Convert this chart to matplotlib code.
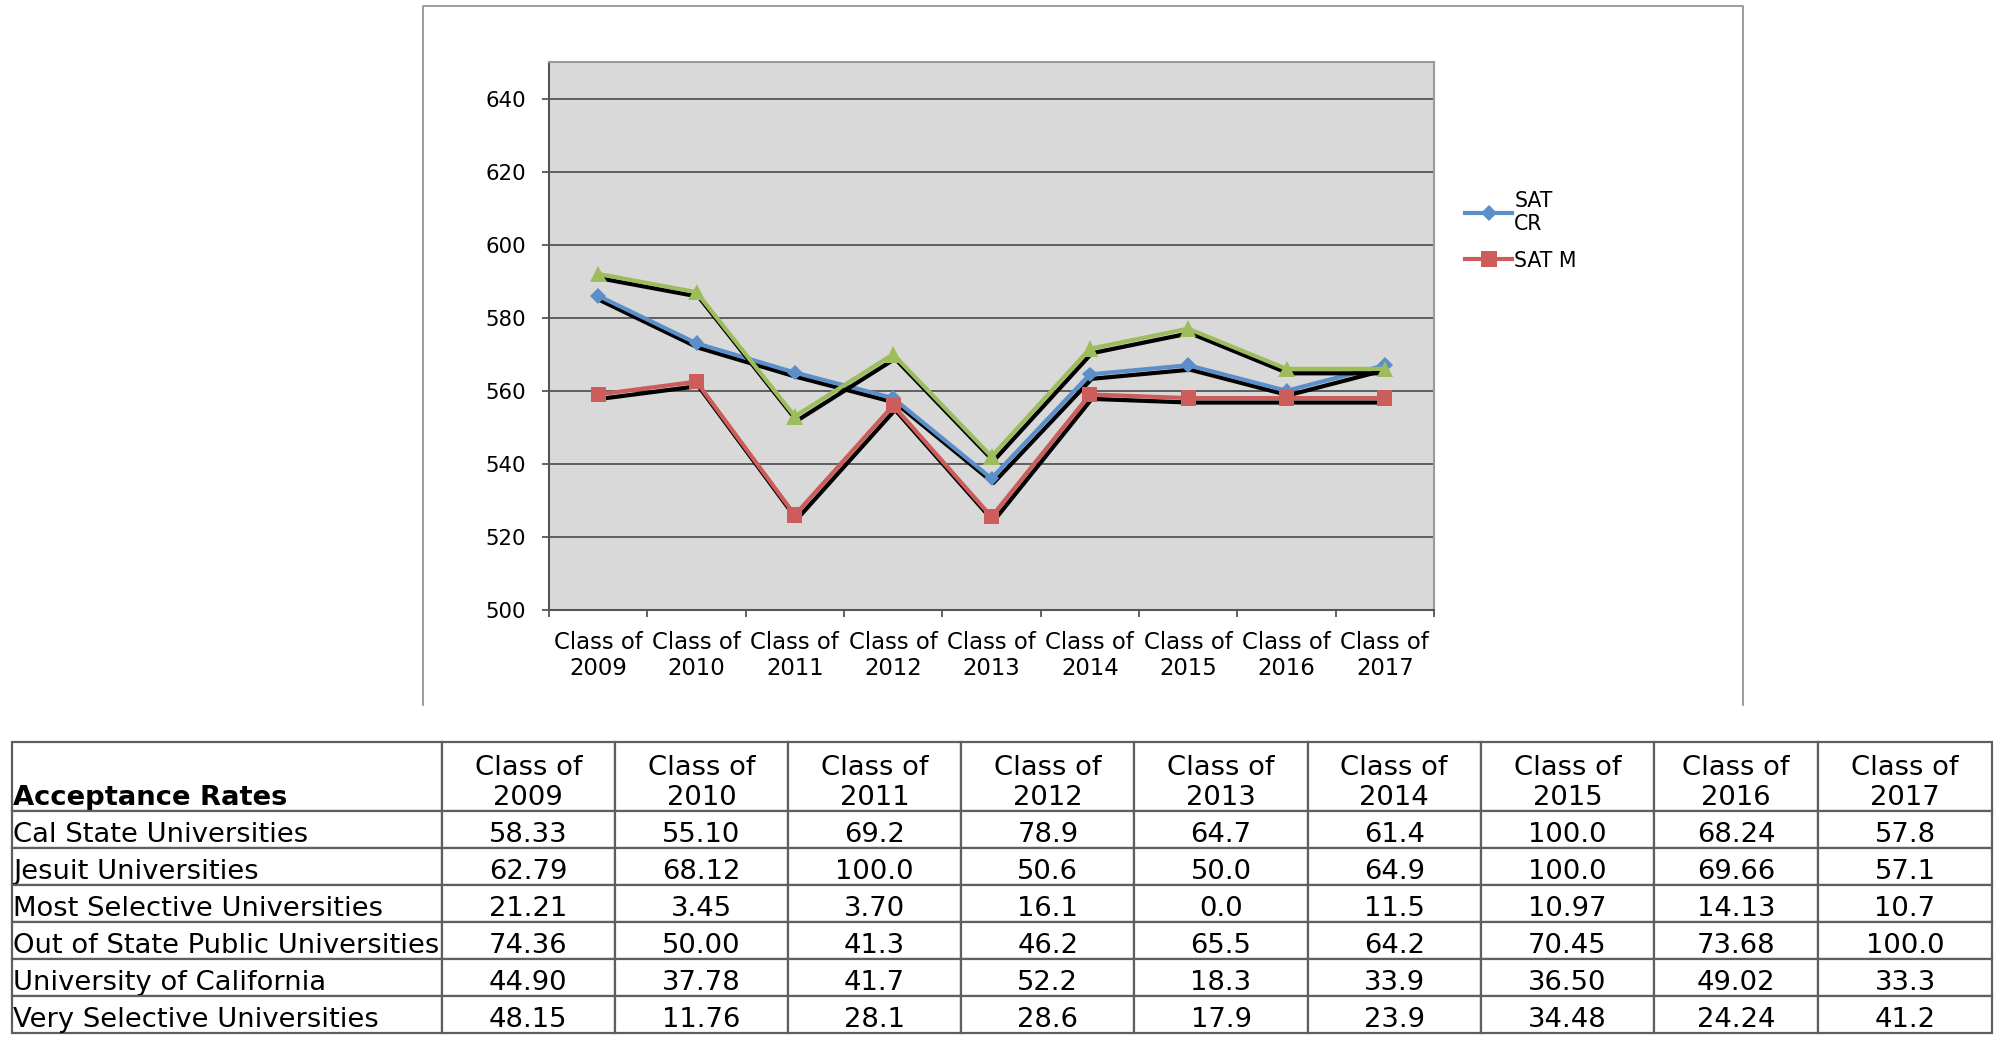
import numpy as np
import matplotlib
matplotlib.use("Agg")
import matplotlib.pyplot as plt
from matplotlib.lines import Line2D
import matplotlib.patheffects as pe

plt.rcParams['font.family'] = ['DejaVu Sans']

# ---------------- data ----------------
years = ['2009', '2010', '2011', '2012', '2013', '2014', '2015', '2016', '2017']
class_labels = [f'Class of\n{y}' for y in years]

sat_cr = [586, 573, 565, 558, 536, 564.5, 567, 560, 567]
sat_m = [559, 562.5, 526, 556, 525.5, 559, 558, 558, 558]
sat_w = [592, 587, 553, 570, 542, 571.5, 577, 566, 566]

table_title = 'Acceptance Rates'
universities = ['Cal State Universities', 'Jesuit Universities',
                'Most Selective Universities', 'Out of State Public Universities',
                'University of California', 'Very Selective Universities']
cal_state = ['58.33', '55.10', '69.2', '78.9', '64.7', '61.4', '100.0', '68.24', '57.8']
jesuit = ['62.79', '68.12', '100.0', '50.6', '50.0', '64.9', '100.0', '69.66', '57.1']
most_selective = ['21.21', '3.45', '3.70', '16.1', '0.0', '11.5', '10.97', '14.13', '10.7']
out_of_state = ['74.36', '50.00', '41.3', '46.2', '65.5', '64.2', '70.45', '73.68', '100.0']
uc = ['44.90', '37.78', '41.7', '52.2', '18.3', '33.9', '36.50', '49.02', '33.3']
very_selective = ['48.15', '11.76', '28.1', '28.6', '17.9', '23.9', '34.48', '24.24', '41.2']
rates = [cal_state, jesuit, most_selective, out_of_state, uc, very_selective]

# ---------------- figure ----------------
W, H = 2011, 1040
fig = plt.figure(figsize=(W / 100, H / 100), dpi=100)

# chart frame (left, top, right sides)
fx0, fx1, fy0, fy1 = 423 / W, 1743 / W, 1 - 705 / H, 1 - 6 / H
fig.add_artist(Line2D([fx0, fx0, fx1, fx1], [fy0, fy1, fy1, fy0],
                      transform=fig.transFigure, color='#8c8c8c', lw=1.2))

ax = fig.add_axes([549 / W, 1 - 610 / H, (1434 - 549) / W, (610 - 62) / H])
ax.set_facecolor('#d9d9d9')
x = np.arange(len(years))

blue = '#5b8fca'
red = '#cd5d5a'
green = '#9dbd5c'

shadow = [pe.SimpleLineShadow(offset=(1.4, -3.2), shadow_color='black', alpha=1.0),
          pe.Normal()]

ax.plot(x, sat_cr, color=blue, lw=3, marker='D', ms=8, mec=blue, mew=0,
        path_effects=shadow, zorder=3)
ax.plot(x, sat_m, color=red, lw=3, marker='s', ms=11, mec=red, mew=0,
        path_effects=shadow, zorder=4)
ax.plot(x, sat_w, color=green, lw=3, marker='^', ms=12, mec=green, mew=0,
        path_effects=shadow, zorder=5)

ax.set_xlim(-0.5, len(years) - 0.5)
ax.set_ylim(500, 650)
ax.set_yticks(np.arange(500, 641, 20))
ax.set_xticks(x)
ax.set_xticklabels(class_labels)
ax.set_xticks(np.arange(-0.5, len(years)), minor=True)
ax.tick_params(axis='x', which='major', length=0, pad=15, labelsize=16.4)
ax.tick_params(axis='x', which='minor', length=5, width=1.3, color='#555555')
ax.tick_params(axis='y', length=5, width=1.3, color='#555555', pad=11.5, labelsize=15.3)
ax.yaxis.grid(True, color='#4a4a4a', lw=1.2)
ax.set_axisbelow(True)
for s in ['left', 'bottom']:
    ax.spines[s].set_color('#555555')
    ax.spines[s].set_linewidth(1.5)
for s in ['top', 'right']:
    ax.spines[s].set_color('#9a9a9a')
    ax.spines[s].set_linewidth(1.5)

handles = [Line2D([], [], color=blue, lw=3, marker='D', ms=8, mew=0),
           Line2D([], [], color=red, lw=3, marker='s', ms=11, mew=0)]
fig.legend(handles, ['SAT\nCR', 'SAT M'], loc='upper left',
           bbox_to_anchor=(1465 / W, 1 - 191 / H), frameon=False, fontsize=14.8,
           handlelength=2.3, handletextpad=0.1, borderpad=0, borderaxespad=0,
           labelspacing=0.8, numpoints=1)

# ---------------- table ----------------
tx0, tx1, ty0, ty1 = 11.7, 1992, 741.7, 1032.6
tax = fig.add_axes([tx0 / W, 1 - ty1 / H, (tx1 - tx0) / W, (ty1 - ty0) / H])
tax.axis('off')

header = [table_title] + class_labels
body = [[name] + vals for name, vals in zip(universities, rates)]
col_w = [430] + [173.2] * 7 + [164, 174]
tbl = tax.table(cellText=[header] + body, colWidths=col_w, cellLoc='center',
                bbox=[0, 0, 1, 1])
tbl.auto_set_font_size(False)
tbl.set_fontsize(19.7)

head_h, row_h = 69, 37


def bottom_align(cell, pad_px=0.0):
    orig = cell._set_text_position

    def f(renderer):
        orig(renderer)
        bb = cell.get_window_extent(renderer)
        xx, _ = cell._text.get_position()
        cell._text.set_position((xx, bb.y0 + pad_px))
    cell._set_text_position = f
    cell.get_text().set_va('bottom')


for (r, c), cell in tbl.get_celld().items():
    cell.set_edgecolor('#5f5f5f')
    cell.set_linewidth(1.6)
    cell.set_facecolor('white')
    cell.set_height(head_h if r == 0 else row_h)
    if c == 0:
        cell.get_text().set_ha('left')
        cell.PAD = 0.004
    if r == 0 and c == 0:
        cell.get_text().set_fontweight('bold')
    bottom_align(cell, 0.0)

fig.savefig('out.png', dpi=100)
